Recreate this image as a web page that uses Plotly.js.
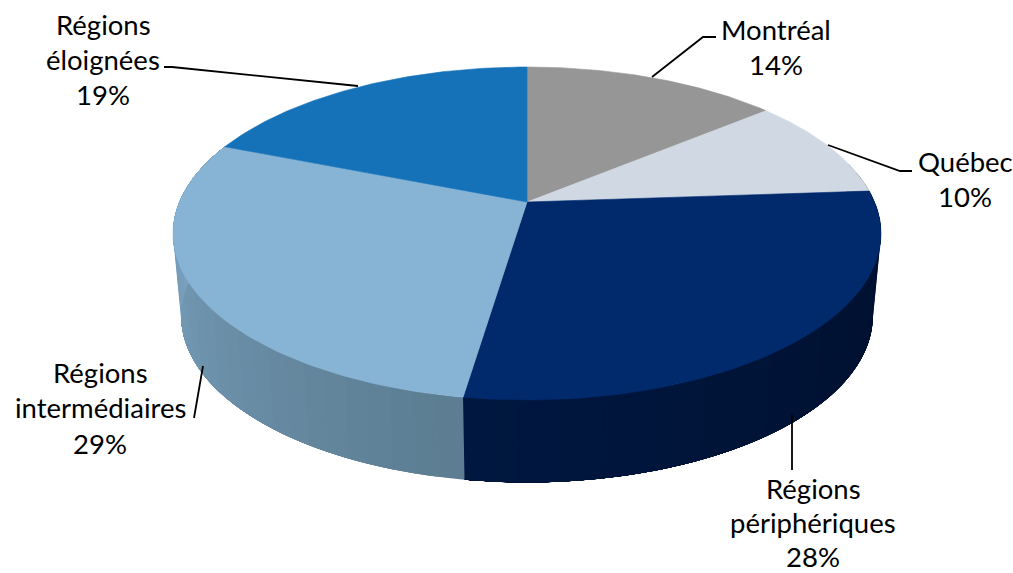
<!DOCTYPE html>
<html>
<head>
<meta charset="utf-8">
<script src="https://cdn.plot.ly/plotly-3.0.1.min.js"></script>
<style>html,body{margin:0;padding:0;background:#fff}#chart{width:1013px;height:573px}</style>
</head>
<body>
<div id="chart"></div>
<script>
// Data
const categories = ["Montréal", "Québec", "Régions périphériques", "Régions intermédiaires", "Régions éloignées"];
const values = [14, 9.9, 28.49, 28.61, 19];
const topColors = ["#969696", "#D0D8E4", "#002A6C", "#87B4D5", "#1672B8"];

// Label lines (display text)
const labelLines = [["Montréal"], ["Québec"], ["Régions", "périphériques"], ["Régions", "intermédiaires"], ["Régions", "éloignées"]];

// Styles and layout
const fontFamily = "Lato, 'Open Sans', sans-serif";
const fontSize = 27.5;
const lineHeights = [35, 35, 34, 35.5, 35];
const labelPos = [[776, 29], [965, 161], [813, 488], [100, 372], [103, 24]];
const leaders = [
  [[652, 77], [703, 37], [716, 37]],
  [[828, 145], [900, 171], [912, 171]],
  [[792, 415], [792, 470]],
  [[203, 366], [194, 418]],
  [[358, 86], [172, 67], [164, 67]]
];
const wallRamps = {2: ["#00173F", "#000E2A"], 3: ["#5C7D92", "#80A9C8"]};

// Projection of the tilted disc
const cx = 527, cy = 202, rx = 347.6, ry = 160.5, k = 0.189, depth = 82.5, baseScale = 0.977;
function project(theta, bottom) {
  const s = Math.sin(theta), c = Math.cos(theta), d = 1 + k * c;
  return bottom
    ? [cx + baseScale * rx * s / d, cy + depth - ry * c / d]
    : [cx + rx * s / d, cy - ry * c / d];
}
function hex(c) { return [1, 3, 5].map(i => parseInt(c.substr(i, 2), 16)); }
function mix(a, b, t) {
  const A = hex(a), B = hex(b);
  return "rgb(" + A.map((v, i) => Math.round(v + (B[i] - v) * t)).join(",") + ")";
}

const total = values.reduce((a, b) => a + b, 0);
const angles = [0];
values.forEach(v => angles.push(angles[angles.length - 1] + v / total * 2 * Math.PI));

function poly(points, color, width) {
  return {
    type: "scatter", mode: "lines", fill: "toself", fillcolor: color,
    x: points.map(p => p[0]), y: points.map(p => p[1]),
    line: {color: color, width: width}, hoverinfo: "skip", showlegend: false
  };
}

const traces = [];
// Walls, behind the top face; each band overlaps all later ones so no seams show
Object.keys(wallRamps).forEach(key => {
  const i = +key, ramp = wallRamps[key];
  const a0 = i === 2 ? Math.PI * 0.42 : angles[i], a1 = i === 2 ? angles[i + 1] : Math.PI * 1.62;
  const n = 30, steps = 40;
  for (let j = 0; j < n; j++) {
    const start = a0 + (a1 - a0) * j / n;
    const up = [], down = [];
    for (let m = 0; m <= steps; m++) {
      const t = start + (a1 - start) * m / steps;
      up.push(project(t, false));
      down.unshift(project(t, true));
    }
    const f = i === 2 ? 1 - j / (n - 1) : j / (n - 1);
    traces.push(poly(up.concat(down, [up[0]]), mix(ramp[0], ramp[1], f), 0));
  }
});
// Top face
values.forEach((v, i) => {
  const pts = [[cx, cy]], n = 90;
  for (let j = 0; j <= n; j++) pts.push(project(angles[i] + (angles[i + 1] - angles[i]) * j / n, false));
  pts.push([cx, cy]);
  const t = poly(pts, topColors[i], 0.6);
  t.name = categories[i];
  traces.push(t);
});
// Leader lines
leaders.forEach(l => traces.push({
  type: "scatter", mode: "lines", x: l.map(p => p[0]), y: l.map(p => p[1]),
  line: {color: "#000", width: 1.8}, hoverinfo: "skip", showlegend: false
}));

// Labels
const annotations = [];
categories.forEach((c, i) => {
  const lines = labelLines[i].concat([Math.round(values[i] / total * 100) + "%"]);
  lines.forEach((text, j) => annotations.push({
    xref: "x", yref: "y", x: labelPos[i][0], y: labelPos[i][1] + j * lineHeights[i],
    text: text, showarrow: false, xanchor: "center", yanchor: "middle",
    font: {family: fontFamily, size: fontSize, color: "#000"}
  }));
});

const axis = {visible: false, fixedrange: true, showgrid: false, zeroline: false};
Plotly.newPlot("chart", traces, {
  width: 1013, height: 573, margin: {l: 0, r: 0, t: 0, b: 0},
  paper_bgcolor: "#fff", plot_bgcolor: "#fff", showlegend: false,
  xaxis: Object.assign({range: [0, 1013]}, axis),
  yaxis: Object.assign({range: [573, 0]}, axis),
  annotations: annotations
}, {displayModeBar: false, staticPlot: true});
</script>
</body>
</html>
